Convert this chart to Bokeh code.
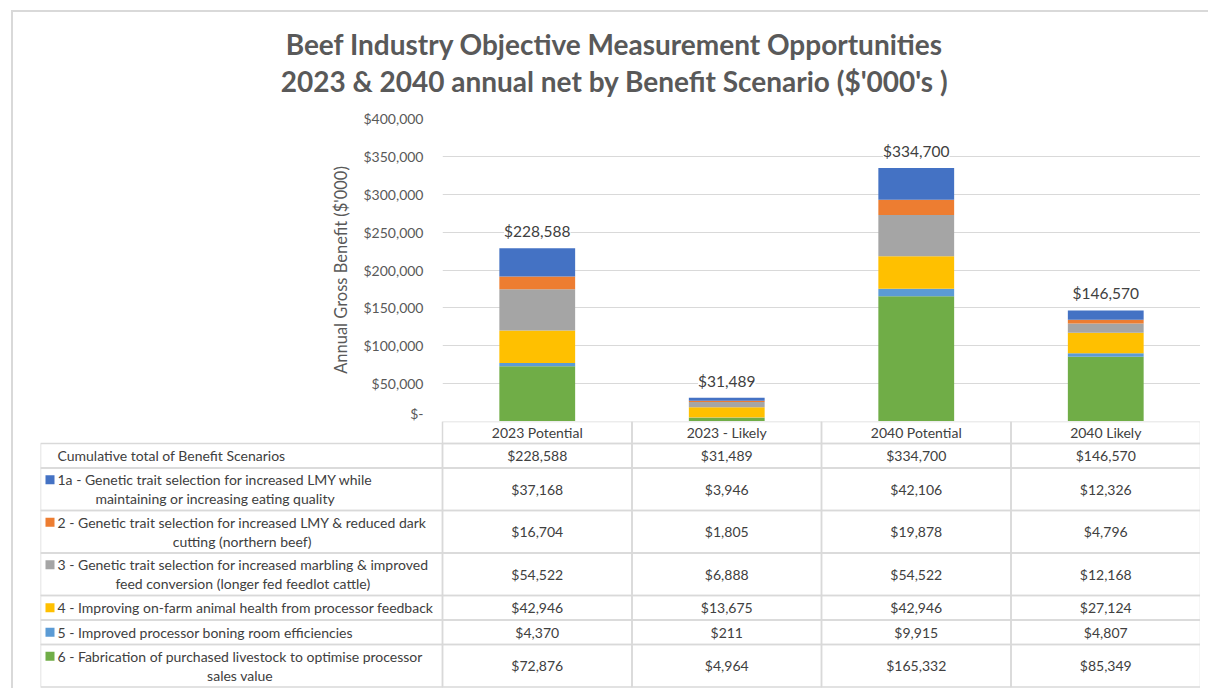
from bokeh.plotting import figure
from bokeh.models import (ColumnDataSource, FactorRange, Range1d, LabelSet,
                          FixedTicker, NumeralTickFormatter)
from bokeh.embed import file_html
from bokeh.resources import INLINE
from bokeh.core.properties import value

# ---------------- data ----------------
title_lines = ["Beef Industry Objective Measurement Opportunities",
               "2023 & 2040 annual net by Benefit Scenario ($'000's )"]
y_axis_label = "Annual Gross Benefit ($'000)"
categories = ["2023 Potential", "2023 - Likely", "2040 Potential", "2040 Likely"]
total_row_label = "Cumulative total of Benefit Scenarios"
totals = [228588, 31489, 334700, 146570]
series_names = [
    "1a - Genetic trait selection for increased LMY while\nmaintaining or increasing eating quality",
    "2 - Genetic trait selection for increased LMY & reduced dark\ncutting (northern beef)",
    "3 - Genetic trait selection for increased marbling & improved\nfeed conversion (longer fed feedlot cattle)",
    "4 - Improving on-farm animal health from processor feedback",
    "5 - Improved processor boning room efficiencies",
    "6 - Fabrication of purchased livestock to optimise processor\nsales value",
]
s1a = [37168, 3946, 42106, 12326]
s2 = [16704, 1805, 19878, 4796]
s3 = [54522, 6888, 54522, 12168]
s4 = [42946, 13675, 42946, 27124]
s5 = [4370, 211, 9915, 4807]
s6 = [72876, 4964, 165332, 85349]
series_values = [s1a, s2, s3, s4, s5, s6]
series_colors = ["#4472C4", "#ED7D31", "#A5A5A5", "#FFC000", "#5B9BD5", "#70AD47"]
y_ticks = [0, 50000, 100000, 150000, 200000, 250000, 300000, 350000, 400000]

# ---------------- styles ----------------
FONT = "Lato"
GRID = "#d9d9d9"
TXT = "#404040"
AX = "#595959"
MARGIN_LEFT = 11
W = 1189
TITLE_W = 1197
FRAME_LEFT = 431          # chart frame left inside figure
COL_PX = (W - FRAME_LEFT) / 4.0
TABLE_LEFT = 29
LEFT_W = (FRAME_LEFT - TABLE_LEFT) / COL_PX
EDGE = "#d9d9d9"

def money(v):
    return "${:,}".format(v)

# ---------------- title figure ----------------
TITLE_H = 98
tf = figure(width=TITLE_W, height=TITLE_H, x_range=Range1d(0, TITLE_W), y_range=Range1d(TITLE_H, 0),
            x_axis_type=None, y_axis_type=None,
            toolbar_location=None, output_backend="svg",
            min_border_left=0, min_border_right=0, min_border_top=0, min_border_bottom=0,
            outline_line_color=None, border_fill_color=None, background_fill_color=None,
            styles={"margin-left": "%dpx" % MARGIN_LEFT, "margin-top": "10px",
                    "box-shadow": "inset 2px 2px 0 0 %s" % EDGE})
tf.grid.visible = False
tf.text(x=[603, 603], y=[33, 70], text=title_lines, text_align="center",
        text_baseline="alphabetic", text_font=value(FONT), text_font_size="28px",
        text_font_style="bold", text_color=AX)

# ---------------- chart figure ----------------
keys = ["s1a", "s2", "s3", "s4", "s5", "s6"]
data = {"cat": categories}
for k, v in zip(keys, series_values):
    data[k] = v
src = ColumnDataSource(data)

p = figure(width=W, height=313, x_range=FactorRange(*categories), y_range=Range1d(0, 400000),
           toolbar_location=None, output_backend="svg",
           min_border_left=FRAME_LEFT, min_border_right=0, min_border_top=10, min_border_bottom=0,
           outline_line_color=None, border_fill_color=None,
           styles={"margin-left": "%dpx" % MARGIN_LEFT,
                   "box-shadow": "inset 2px 0 0 0 %s" % EDGE})
p.vbar_stack(keys[::-1], x="cat", width=0.4, color=series_colors[::-1], line_color=None, source=src)

p.xaxis.visible = False
p.xgrid.grid_line_color = None
p.ygrid.grid_line_color = GRID
p.ygrid.grid_line_width = 1
yax = p.yaxis[0]
yax.ticker = FixedTicker(ticks=y_ticks)
yax.formatter = NumeralTickFormatter(format="$0,0")
yax.major_label_overrides = {0: "$-"}
yax.axis_line_color = None
yax.major_tick_line_color = None
yax.minor_tick_line_color = None
yax.major_tick_out = 0
yax.major_tick_in = 0
yax.minor_tick_out = 0
yax.major_label_standoff = 19
yax.major_label_text_font = FONT
yax.major_label_text_font_size = "14px"
yax.major_label_text_color = AX
yax.axis_label = y_axis_label
yax.axis_label_text_font = FONT
yax.axis_label_text_font_size = "16.5px"
yax.axis_label_text_font_style = "normal"
yax.axis_label_text_color = AX
yax.axis_label_standoff = 9

lab_src = ColumnDataSource({"cat": categories, "tot": totals, "txt": [money(t) for t in totals]})
labels = LabelSet(x="cat", y="tot", text="txt", source=lab_src, text_align="center",
                  text_baseline="middle", y_offset=17, text_font=value(FONT),
                  text_font_size="15.5px", text_color=TXT, background_fill_color="white")
p.add_layout(labels)

# ---------------- table figure ----------------
HEADER_H = 22
ONE_H = 24.5
TWO_H = 42.5
row_texts = [total_row_label] + series_names
row_lines = [t.count("\n") + 1 for t in row_texts]
heights = [HEADER_H] + [ONE_H if n == 1 else TWO_H for n in row_lines]
tops = [0]
for h in heights:
    tops.append(tops[-1] + h)
TABLE_H = 267

tb = figure(width=W, height=TABLE_H, x_range=Range1d(-LEFT_W, 4), y_range=Range1d(TABLE_H, 0),
            x_axis_type=None, y_axis_type=None, toolbar_location=None, output_backend="svg",
            min_border_left=TABLE_LEFT, min_border_right=0, min_border_top=0, min_border_bottom=0,
            outline_line_color=None, border_fill_color=None,
            styles={"margin-left": "%dpx" % MARGIN_LEFT,
                    "box-shadow": "inset 2px 0 0 0 %s" % EDGE})
tb.grid.visible = False

ql, qr, qt, qb = [], [], [], []
for i in range(len(categories)):
    ql.append(i); qr.append(i + 1); qt.append(tops[0]); qb.append(tops[1])
for r in range(1, len(heights)):
    ql.append(-LEFT_W); qr.append(0); qt.append(tops[r]); qb.append(tops[r + 1])
    for i in range(len(categories)):
        ql.append(i); qr.append(i + 1); qt.append(tops[r]); qb.append(tops[r + 1])
tb.quad(left=ql, right=qr, top=qt, bottom=qb, fill_color=None, line_color=GRID, line_width=1.5)

# header text
tb.text(x=[i + 0.5 for i in range(len(categories))], y=[(tops[0] + tops[1]) / 2] * len(categories),
        text=categories, text_align="center", text_baseline="middle",
        text_font=value(FONT), text_font_size="14px", text_color=TXT)

# value texts
table_rows = [totals] + series_values
vx, vy, vt = [], [], []
for r, vals in enumerate(table_rows):
    cy = (tops[r + 1] + tops[r + 2]) / 2
    for i, v in enumerate(vals):
        vx.append(i + 0.5); vy.append(cy); vt.append(money(v))
tb.text(x=vx, y=vy, text=vt, text_align="center", text_baseline="middle",
        text_font=value(FONT), text_font_size="14px", text_color=TXT)

# row labels
lx = [-LEFT_W + 17 / COL_PX] * len(row_texts)
ly = [(tops[r + 1] + tops[r + 2]) / 2 for r in range(len(row_texts))]
tb.text(x=lx, y=ly, text=row_texts, text_align="center", text_baseline="middle",
        anchor="center_left", text_line_height=1.12,
        text_font=value(FONT), text_font_size="14px", text_color=TXT)

# legend keys
kx = [-LEFT_W + 9.5 / COL_PX] * len(series_names)
ky = [(tops[r + 2] + tops[r + 3]) / 2 - (row_lines[r + 1] - 1) * 9.5 for r in range(len(series_names))]
tb.scatter(x=kx, y=ky, marker="square", size=9, color=series_colors, line_color=None)

open("out.html", "w").write(file_html([tf, p, tb], INLINE))
